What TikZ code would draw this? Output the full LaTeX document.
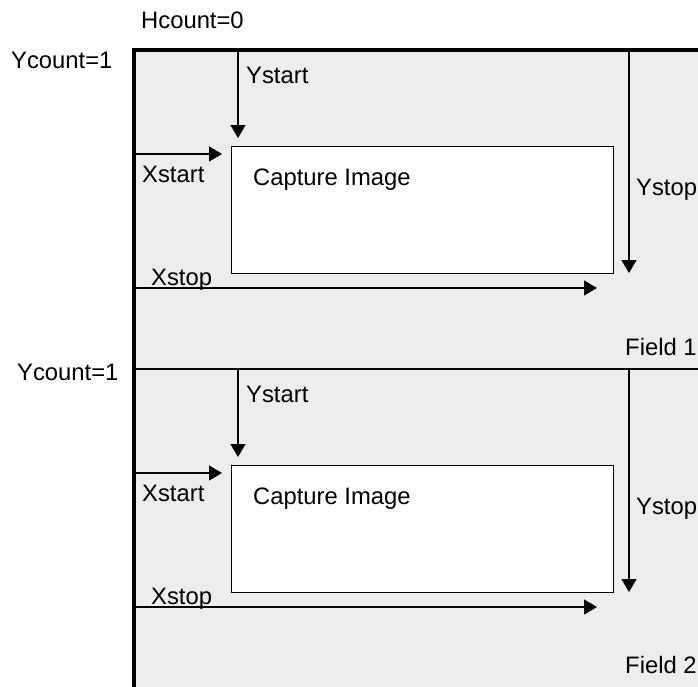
\documentclass[tikz,border=0pt]{standalone}
\usepackage{fontspec}
\setmainfont{Liberation Sans}
\usetikzlibrary{arrows.meta}
\definecolor{fieldgrey}{HTML}{EDEDED}
\tikzset{
  lbl/.style={anchor=base west, inner sep=0pt, font=\fontsize{23.8}{28}\selectfont, text=black},
  thin/.style={line width=1.3pt, draw=black},
  arr/.style={thin, -{Triangle[length=13pt,width=15pt]}},
  capbox/.style={draw=black, line width=1pt, fill=white, anchor=north west,
    minimum width=382pt, minimum height=127pt, inner sep=0pt},
  border/.style={line width=4pt, draw=black}
}
\begin{document}
\begin{tikzpicture}[x=1pt,y=-1pt]
\useasboundingbox (0,0) rectangle (698,686);
\clip (0,0) rectangle (698,686);
% background frame
\fill[fieldgrey] (134,50) rectangle (720,700);
\coordinate (tl) at (134,50);
\coordinate (tr) at (710,50);
\coordinate (bl) at (134,700);
\coordinate (dl) at (134,369);
\coordinate (dr) at (710,369);
\draw[thin] (dl) -- (dr);
\draw[border] (tr) -- (tl) -- (bl);
% top labels
\node[lbl] (hcount) at (141,28) {Hcount=0};
\node[lbl] (ycount1) at (11,68) {Ycount=1};
\node[lbl] (ycount2) at (17,380) {Ycount=1};
\node[lbl] (field1) at (625,355) {Field 1};
\node[lbl] (field2) at (625,673) {Field 2};
\foreach \i/\d in {1/0,2/319}{
  \node[capbox] (box\i) at (231,146+\d) {};
  \node[lbl] (cap\i) at (253,185+\d) {Capture Image};
  \coordinate (ys\i) at (238,50+\d);
  \coordinate (yse\i) at (238,138+\d);
  \coordinate (yp\i) at (629,50+\d);
  \coordinate (ype\i) at (629,273+\d);
  \coordinate (xs\i) at (134,154+\d);
  \coordinate (xse\i) at (222,154+\d);
  \coordinate (xp\i) at (134,288+\d);
  \coordinate (xpe\i) at (597,288+\d);
  \draw[arr] (ys\i) -- (yse\i);
  \draw[arr] (yp\i) -- (ype\i);
  \draw[arr] (xs\i) -- (xse\i);
  \draw[arr] (xp\i) -- (xpe\i);
  \node[lbl] (ystart\i) at (246,83+\d) {Ystart};
  \node[lbl] (xstart\i) at (142,182+\d) {Xstart};
  \node[lbl] (ystop\i) at (636,195+\d) {Ystop};
  \node[lbl] (xstop\i) at (151,285+\d) {Xstop};
}
\draw[border] (tl) -- (bl);
\end{tikzpicture}
\end{document}
